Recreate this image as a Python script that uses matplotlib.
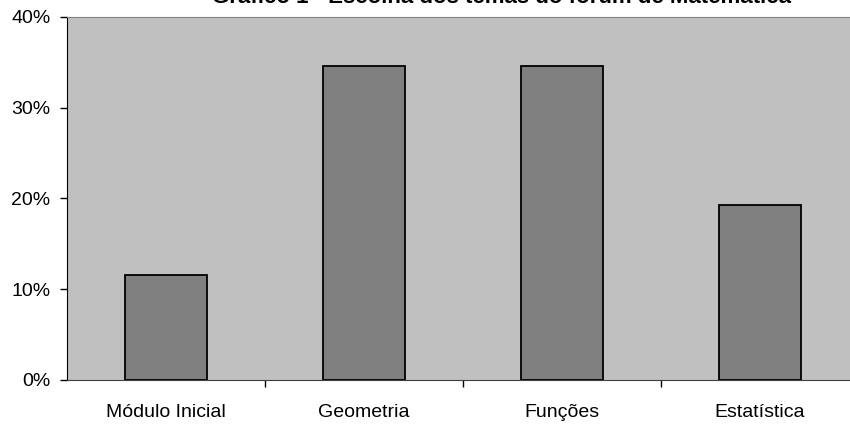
import matplotlib.pyplot as plt
from matplotlib.ticker import PercentFormatter

plt.rcParams['font.family'] = ['Liberation Sans', 'DejaVu Sans']

temas = ['Módulo Inicial', 'Geometria', 'Funções', 'Estatística']
percentagens = [11.54, 34.62, 34.62, 19.23]
titulo = 'Gráfico 1 - Escolha dos temas do fórum de Matemática'

fig = plt.figure(figsize=(8.5, 4.26), dpi=100)
ax = fig.add_axes([67 / 850, 46 / 426, 792 / 850, 363 / 426])
ax.set_facecolor('#C0C0C0')

pos = list(range(len(temas)))
ax.bar(pos, percentagens, width=0.41, color='#808080', edgecolor='black', linewidth=1.3)

ax.set_xlim(-0.5, len(temas) - 0.5)
ax.set_ylim(0, 40)
ax.set_yticks([0, 10, 20, 30, 40])
ax.yaxis.set_major_formatter(PercentFormatter(decimals=0))

# categorias no centro, traços nos limites entre elas
ax.set_xticks(pos)
ax.set_xticklabels(temas)
ax.set_xticks([p + 0.5 for p in pos[:-1]], minor=True)
ax.tick_params(axis='x', which='major', length=0, pad=17, labelsize=14)
ax.tick_params(axis='x', which='minor', length=5, width=1, direction='out')
ax.tick_params(axis='y', length=5, width=1, direction='out', labelsize=14, pad=7)

ax.spines['right'].set_visible(False)
ax.spines['top'].set_color('#808080')
ax.spines['left'].set_color('black')
ax.spines['bottom'].set_color('#404040')

fig.text(502 / 850, 1 - 3 / 426, titulo, ha='center', va='baseline',
         fontsize=16, fontweight='bold')

fig.savefig('out.png', dpi=100)
